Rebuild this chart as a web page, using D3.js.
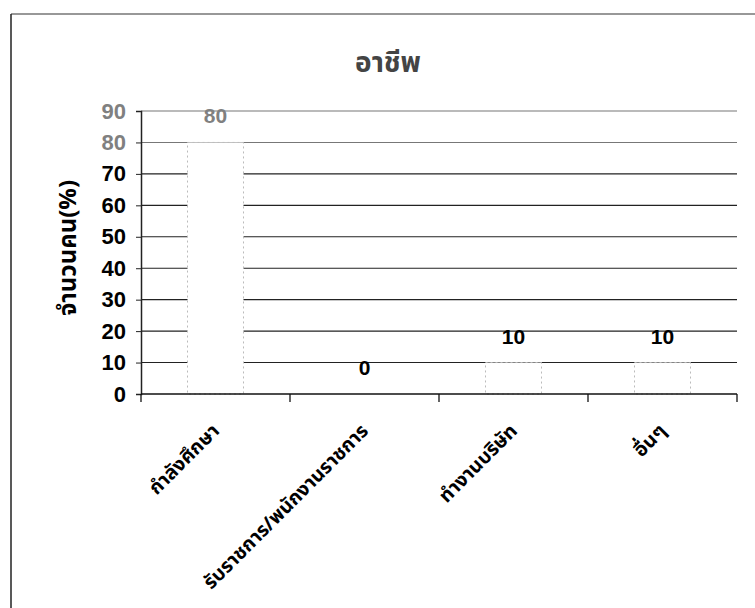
<!DOCTYPE html>
<html><head><meta charset="utf-8">
<script src="https://cdn.jsdelivr.net/npm/d3@7/dist/d3.min.js"></script>
<style>
html,body{margin:0;padding:0;background:#fff;}
text{font-family:"Noto Sans Thai","Noto Sans","Liberation Sans",Tahoma,sans-serif;}
</style></head>
<body>
<svg id="chart" width="755" height="608"></svg>
<script>
const title = "อาชีพ";
const yTitle = "จำนวนคน(%)";
const categories = ["กำลังศึกษา", "รับราชการ/พนักงานราชการ", "ทำงานบริษัท", "อื่นๆ"];
const values = [80, 0, 10, 10];
const yTicks = [0, 10, 20, 30, 40, 50, 60, 70, 80, 90];

const svg = d3.select("#chart");
const W = 755, H = 608;
const m = {left: 141, right: 737, top: 111, bottom: 394};

// outer chart frame
svg.append("line").attr("x1", 11).attr("x2", W).attr("y1", 14).attr("y2", 14)
  .attr("stroke", "#333").attr("stroke-width", 1.2);
svg.append("line").attr("x1", 11).attr("x2", 11).attr("y1", 14).attr("y2", H)
  .attr("stroke", "#222").attr("stroke-width", 1.5);

const x = d3.scaleBand().domain(categories).range([m.left, m.right]).paddingInner(0).paddingOuter(0);
const y = d3.scaleLinear().domain([0, 90]).range([m.bottom, m.top]);
const barW = 56;
const shade = v => v >= 75 ? "#808080" : "#000";

// gridlines
svg.append("g").selectAll("line").data(yTicks.filter(d => d > 0)).join("line")
  .attr("x1", m.left).attr("x2", m.right)
  .attr("y1", d => y(d)).attr("y2", d => y(d))
  .attr("stroke", d => d >= 80 ? "#777" : "#222")
  .attr("stroke-width", 1.1);

// bars
svg.append("g").selectAll("rect").data(values).join("rect")
  .attr("x", (d, i) => x(categories[i]) + x.bandwidth() / 2 - barW / 2)
  .attr("y", d => y(d))
  .attr("width", barW)
  .attr("height", d => y(0) - y(d))
  .attr("fill", "#fff")
  .attr("stroke", "#bbb").attr("stroke-width", 1)
  .attr("stroke-dasharray", "2,3");

// y axis
const yAxis = svg.append("g").attr("transform", `translate(${m.left},0)`)
  .call(d3.axisLeft(y).tickValues(yTicks).tickSize(5).tickPadding(10));
yAxis.select(".domain").attr("stroke", "#222").attr("stroke-width", 1.5);
yAxis.selectAll(".tick line").attr("stroke", "#222");
yAxis.selectAll(".tick text")
  .attr("font-size", 22).attr("font-weight", "bold")
  .attr("fill", d => shade(d))
  .style("font-family", "'Liberation Sans',Arial,sans-serif");

// x axis with ticks at category boundaries
const xAxisG = svg.append("g").attr("transform", `translate(0,${m.bottom})`);
xAxisG.append("line").attr("x1", m.left).attr("x2", m.right).attr("y1", 0).attr("y2", 0)
  .attr("stroke", "#111").attr("stroke-width", 1.3);
const bounds = categories.map(c => x(c)).concat([x(categories[categories.length - 1]) + x.bandwidth()]);
xAxisG.selectAll("line.tk").data(bounds).join("line").attr("class", "tk")
  .attr("x1", d => d).attr("x2", d => d).attr("y1", 0).attr("y2", 8)
  .attr("stroke", "#111").attr("stroke-width", 1.3);
xAxisG.selectAll("text").data(categories).join("text")
  .attr("transform", d => `translate(${x(d) + x.bandwidth() / 2 + 5},${38}) rotate(-45)`)
  .attr("text-anchor", "end")
  .attr("font-size", 19.5).attr("font-weight", "bold").attr("fill", "#000")
  .text(d => d);

// data labels
svg.append("g").selectAll("text").data(values).join("text")
  .attr("x", (d, i) => x(categories[i]) + x.bandwidth() / 2)
  .attr("y", d => y(d) - 19)
  .attr("text-anchor", "middle")
  .attr("font-size", 21).attr("font-weight", "bold")
  .attr("fill", d => shade(d))
  .style("font-family", "'Liberation Sans',Arial,sans-serif")
  .text(d => d);

// titles
svg.append("text").attr("x", 388).attr("y", 72).attr("text-anchor", "middle")
  .attr("font-size", 28).attr("font-weight", "bold").attr("fill", "#444")
  .text(title);
svg.append("text").attr("transform", `translate(76,${248}) rotate(-90)`)
  .attr("text-anchor", "middle")
  .attr("font-size", 24).attr("font-weight", "bold").attr("fill", "#000")
  .text(yTitle);
</script>
</body></html>
